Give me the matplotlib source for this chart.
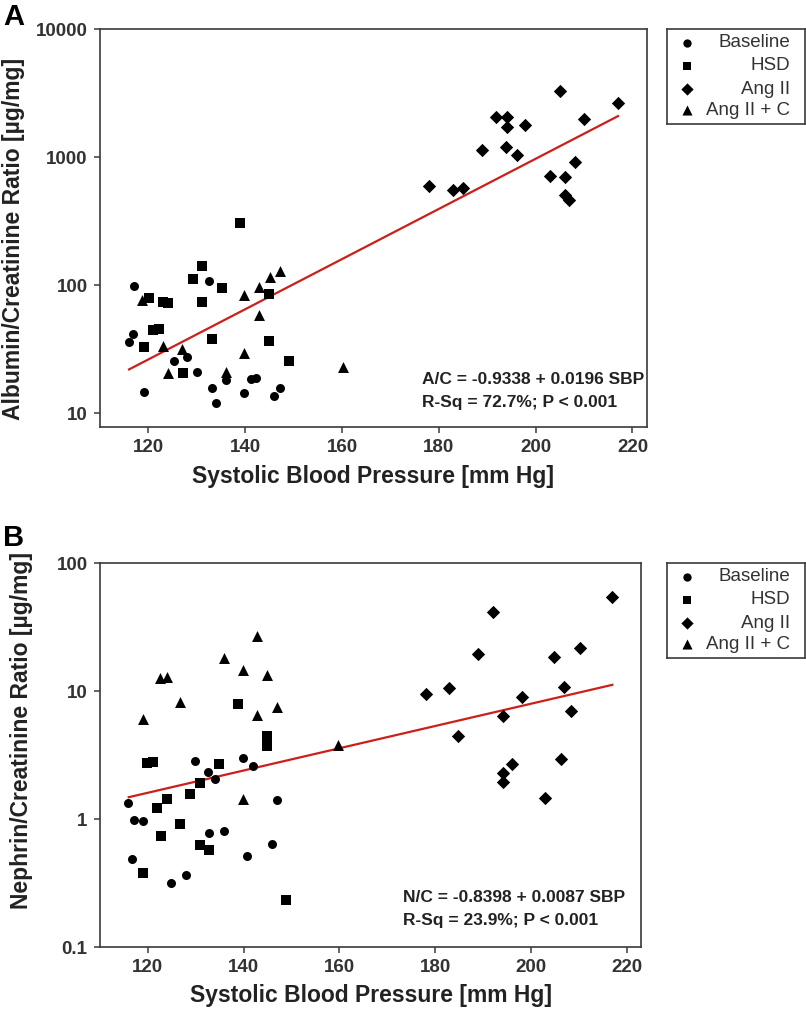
import numpy as np
import matplotlib
matplotlib.use('Agg')
from matplotlib import pyplot as plt

plt.rcParams['font.family'] = ['Liberation Sans', 'DejaVu Sans']

############## DATA ################

# Panel A: albumin/creatinine ratio vs SBP
a_base_x = [117, 132.5, 116.9, 116, 128, 125.3, 130.1, 119, 133.1, 133.9, 136, 139.8, 141.2, 142.2, 145.9, 147.2]
a_base_y = [99, 107, 41.4, 36.1, 27.2, 25.4, 21.0, 14.6, 15.6, 11.9, 18.0, 14.3, 18.3, 18.9, 13.6, 15.6]
a_hsd_x = [139, 131, 129.2, 135.2, 120.2, 123.1, 124.1, 131, 145, 121, 122.1, 119, 133.1, 145, 149, 127.1]
a_hsd_y = [303, 141, 112, 95, 78.7, 74, 72, 74, 84.5, 44.5, 45.3, 33, 37.9, 36.7, 25.3, 20.7]
a_ang_x = [205, 217.1, 191.8, 194, 194, 197.9, 210, 193.9, 196.2, 189, 208.1, 203, 206, 206, 206.9, 178, 182.9, 185]
a_ang_y = [3296, 2655, 2065, 2065, 1706, 1788, 1982, 1202, 1037, 1130, 909, 714, 693, 505, 461, 593, 552, 576]
a_angc_x = [147.2, 145.1, 142.9, 139.8, 118.6, 142.9, 123.1, 126.9, 139.8, 124, 136, 160.1]
a_angc_y = [128, 116, 96, 83.6, 76.4, 58.3, 33.4, 31.6, 29.6, 20.7, 20.8, 23.0]
a_fit_x = [116, 217]
a_fit_y = [21.9, 2086]
a_eq = ['A/C = -0.9338 + 0.0196 SBP', 'R-Sq = 72.7%; P < 0.001']

# Panel B: nephrin/creatinine ratio vs SBP
b_base_x = [115.8, 117.2, 118.9, 116.6, 124.9, 127.9, 129.9, 132.5, 134, 132.7, 135.9, 139.9, 142, 140.8, 146, 146.9]
b_base_y = [1.34, 0.98, 0.96, 0.49, 0.315, 0.367, 2.85, 2.34, 2.04, 0.78, 0.80, 2.98, 2.61, 0.51, 0.64, 1.40]
b_hsd_x = [138.8, 144.8, 144.8, 119.9, 121.1, 134.8, 130.8, 128.8, 123.9, 121.9, 126.8, 122.7, 130.8, 132.8, 118.9, 148.9]
b_hsd_y = [7.9, 4.45, 3.74, 2.75, 2.81, 2.67, 1.92, 1.57, 1.44, 1.21, 0.91, 0.73, 0.63, 0.57, 0.38, 0.234]
b_ang_x = [192.1, 216.9, 188.9, 204.9, 210.2, 182.9, 178, 198.2, 207, 208.3, 194.1, 184.8, 206.2, 196.1, 194.1, 194.1, 203]
b_ang_y = [41.3, 54.5, 19.5, 18.3, 21.8, 10.6, 9.4, 9.0, 10.7, 6.98, 6.41, 4.45, 2.94, 2.67, 2.3, 1.96, 1.47]
b_angc_x = [142.8, 135.9, 139.9, 144.8, 122.6, 124, 126.8, 118.9, 142.8, 146.9, 139.9, 159.8]
b_angc_y = [27.0, 18.1, 14.5, 13.3, 12.7, 12.9, 8.2, 6.0, 6.5, 7.5, 1.43, 3.79]
b_fit_x = [116, 217]
b_fit_y = [1.48, 11.17]
b_eq = ['N/C = -0.8398 + 0.0087 SBP', 'R-Sq = 23.9%; P < 0.001']

groups = ['Baseline', 'HSD', 'Ang II', 'Ang II + C']

############## PLOT ################

W, H = 806, 1017
fig = plt.figure(figsize=(W / 100, H / 100), dpi=100)

axis_color = '#3a3a3a'
text_color = '#222222'
markers = ['o', 's', 'D', '^']
sizes = [42, 48, 46, 62]


def px_box(left, top, right, bottom):
    return [left / W, 1 - bottom / H, (right - left) / W, (bottom - top) / H]


def style_frame(ax):
    for sp in ax.spines.values():
        sp.set_color(axis_color)
        sp.set_linewidth(1.2)


def draw_legend(top):
    # legend drawn in its own small axes: marker left, label right-aligned
    lax = fig.add_axes(px_box(667, top, 805, top + 95))
    lax.set_xlim(0, 1)
    lax.set_ylim(0, 1)
    lax.set_xticks([])
    lax.set_yticks([])
    style_frame(lax)
    rows = [0.853, 0.611, 0.368, 0.147]
    for yy, m, s, name in zip(rows, markers, sizes, groups):
        lax.scatter([0.145], [yy], marker=m, s=s * 0.85, color='black', linewidths=0)
        lax.text(0.89, yy, name, fontsize=13.5, color='#333333', ha='right', va='center')


def draw_panel(ax, series, fit_x, fit_y, eq, ylim, yticks, ylabel, ylab_pos, xlab_y, eq_pos):
    for (xs, ys), m, s, name in zip(series, markers, sizes, groups):
        ax.scatter(xs, ys, marker=m, s=s, color='black', linewidths=0, label=name, zorder=3)
    ax.plot(fit_x, fit_y, color='#cc1f1a', linewidth=1.6, zorder=2)

    ax.set_yscale('log')
    ax.set_xlim(110, 223)
    ax.set_ylim(*ylim)
    ax.set_yticks(yticks)
    ax.set_yticklabels([('%g' % t) for t in yticks])
    ax.minorticks_off()
    ax.set_xticks([120, 140, 160, 180, 200, 220])

    style_frame(ax)
    ax.tick_params(direction='out', length=4, width=1.1, color=axis_color,
                   labelsize=13.5, labelcolor='#333333', pad=5)
    for lab in ax.get_xticklabels() + ax.get_yticklabels():
        lab.set_fontweight('bold')

    ax.set_ylabel(ylabel, fontsize=16.5, fontweight='bold', color=text_color)
    ax.yaxis.set_label_coords(*ylab_pos)
    ax.set_xlabel('Systolic Blood Pressure [mm Hg]', fontsize=16.5, fontweight='bold',
                  color=text_color)
    ax.xaxis.set_label_coords(0.5, xlab_y)

    x0, y0 = eq_pos
    for i, line in enumerate(eq):
        fig.text(x0 / W, 1 - (y0 + 22 * i) / H, line, fontsize=12.5, fontweight='bold',
                 color=text_color, ha='left', va='center')


ax_a = fig.add_axes(px_box(100, 29, 647, 427))
ax_b = fig.add_axes(px_box(100, 563, 641, 947))

draw_panel(ax_a, [(a_base_x, a_base_y), (a_hsd_x, a_hsd_y), (a_ang_x, a_ang_y), (a_angc_x, a_angc_y)],
           a_fit_x, a_fit_y, a_eq, (10 ** (1 - 14 / 128), 10000), [10, 100, 1000, 10000],
           'Albumin/Creatinine Ratio [\u00b5g/mg]', (-0.137, 0.472), -0.095, (422, 380))
draw_panel(ax_b, [(b_base_x, b_base_y), (b_hsd_x, b_hsd_y), (b_ang_x, b_ang_y), (b_angc_x, b_angc_y)],
           b_fit_x, b_fit_y, b_eq, (0.1, 100), [0.1, 1, 10, 100],
           'Nephrin/Creatinine Ratio [\u00b5g/mg]', (-0.124, 0.565), -0.097, (403, 898))

draw_legend(29)
draw_legend(563)

fig.text(3 / W, 1 - 17 / H, 'A', fontsize=21, fontweight='bold', color='black', va='center')
fig.text(3 / W, 1 - 538 / H, 'B', fontsize=21, fontweight='bold', color='black', va='center')

fig.savefig('out.png', dpi=100)
